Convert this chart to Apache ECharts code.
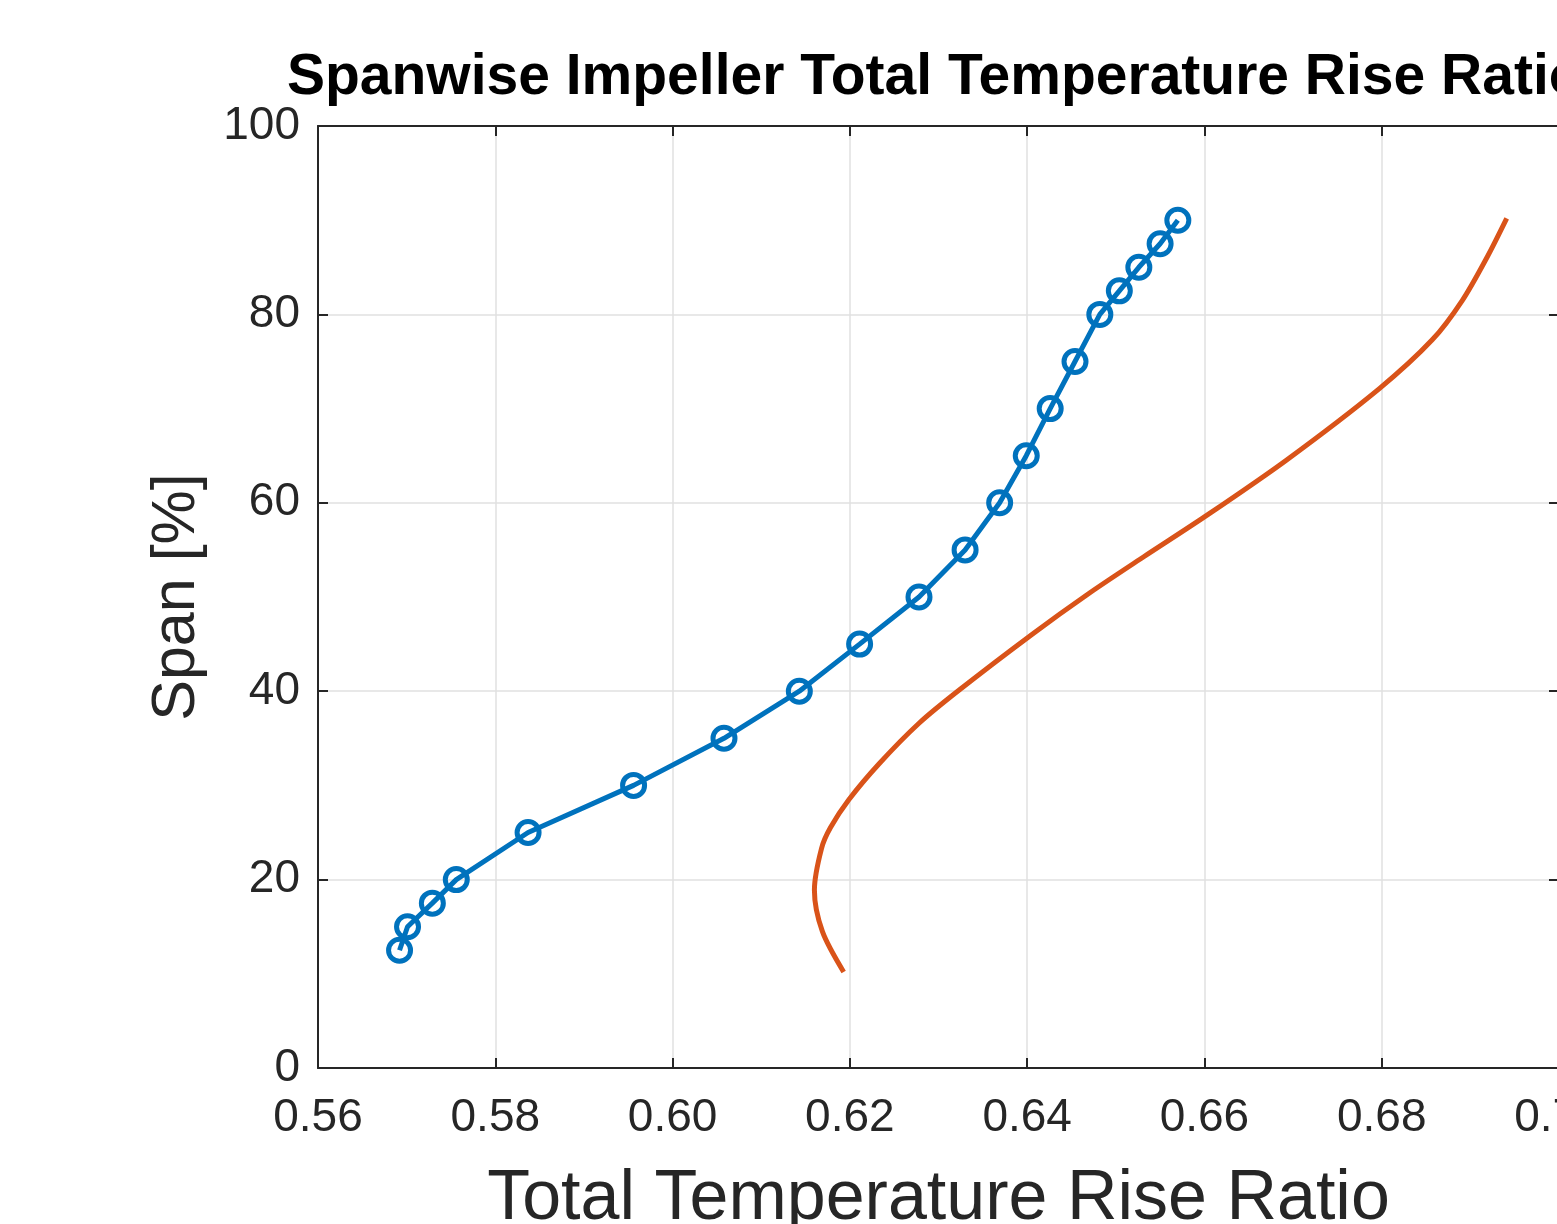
<!DOCTYPE html>
<html>
<head>
<meta charset="utf-8">
<script src="https://cdn.jsdelivr.net/npm/echarts@6/dist/echarts.min.js"></script>
<style>
html,body{margin:0;padding:0;overflow:hidden;background:#fff;width:1557px;height:1224px;}
#chart{width:1600px;height:1224px;}
</style>
</head>
<body>
<div id="chart"></div>
<script>
// Data
const titleText = 'Spanwise Impeller Total Temperature Rise Ratio';
const xAxisName = 'Total Temperature Rise Ratio';
const yAxisName = 'Span [%]';

const spanBlue  = [12.5, 15, 17.5, 20, 25, 30, 35, 40, 45, 50, 55, 60, 65, 70, 75, 80, 82.5, 85, 87.5, 90];
const ratioBlue = [0.5692, 0.5701, 0.5729, 0.5756, 0.5837, 0.5956, 0.6058, 0.6143, 0.6211, 0.6278, 0.6330, 0.6369, 0.6399, 0.6426, 0.6454, 0.6482, 0.6504, 0.6526, 0.6550, 0.6570];

const spanOrange  = [10.2, 14.5, 18.9, 23.3, 25.5, 28.5, 32.3, 36.6, 40.1, 46.0, 50.4, 54.3, 58.5, 64.5, 72.1, 77.3, 81.5, 86.1, 90.2];
const ratioOrange = [0.6193, 0.6169, 0.6160, 0.6168, 0.6178, 0.6199, 0.6233, 0.6278, 0.6323, 0.6405, 0.6470, 0.6532, 0.6600, 0.6692, 0.6797, 0.6857, 0.6891, 0.6919, 0.6941];

const xMin = 0.56, xMax = 0.70, xStep = 0.02;
const yMin = 0, yMax = 100, yStep = 20;

const FONT = "'Liberation Sans', Arial, Helvetica, sans-serif";
const AXC = '#262626';

const blueData = spanBlue.map((s, i) => [ratioBlue[i], s]);
const orangeData = spanOrange.map((s, i) => [ratioOrange[i], s]);

const chart = echarts.init(document.getElementById('chart'), null, {renderer: 'canvas'});
chart.setOption({
  animation: false,
  backgroundColor: '#fff',
  title: {
    text: titleText,
    left: 287, top: 50,
    padding: 0,
    textStyle: {fontFamily: FONT, fontSize: 57, fontWeight: 'bold', color: '#000'}
  },
  grid: {left: 318, right: 41, top: 126, bottom: 156, containLabel: false, outerBoundsMode: 'none'},
  xAxis: [{
    type: 'value', min: xMin, max: xMax, interval: xStep, position: 'bottom',
    name: xAxisName, nameLocation: 'middle', nameGap: 97,
    nameTextStyle: {fontFamily: FONT, fontSize: 70, color: AXC},
    axisLine: {show: true, onZero: false, lineStyle: {color: AXC, width: 2}},
    axisTick: {show: true, inside: true, length: 10, lineStyle: {color: AXC, width: 2}},
    axisLabel: {fontFamily: FONT, fontSize: 46, color: AXC, margin: 27, formatter: v => v.toFixed(2)},
    splitLine: {show: true, lineStyle: {color: '#e0e0e0', width: 1.5}}
  }, {
    type: 'value', min: xMin, max: xMax, interval: xStep, position: 'top',
    axisLine: {show: true, onZero: false, lineStyle: {color: AXC, width: 2}},
    axisTick: {show: true, inside: true, length: 10, lineStyle: {color: AXC, width: 2}},
    axisLabel: {show: false}, splitLine: {show: false}
  }],
  yAxis: [{
    type: 'value', min: yMin, max: yMax, interval: yStep, position: 'left',
    name: yAxisName, nameLocation: 'middle', nameGap: 110, nameRotate: 90,
    nameTextStyle: {fontFamily: FONT, fontSize: 61, color: AXC},
    axisLine: {show: true, onZero: false, lineStyle: {color: AXC, width: 2}},
    axisTick: {show: true, inside: true, length: 10, lineStyle: {color: AXC, width: 2}},
    axisLabel: {fontFamily: FONT, fontSize: 46, color: AXC, margin: 18},
    splitLine: {show: true, lineStyle: {color: '#e0e0e0', width: 1.5}}
  }, {
    type: 'value', min: yMin, max: yMax, interval: yStep, position: 'right',
    axisLine: {show: true, onZero: false, lineStyle: {color: AXC, width: 2}},
    axisTick: {show: true, inside: true, length: 10, lineStyle: {color: AXC, width: 2}},
    axisLabel: {show: false}, splitLine: {show: false}
  }],
  series: [{
    type: 'line', xAxisIndex: 0, yAxisIndex: 0,
    data: blueData,
    symbol: 'circle', symbolSize: 22, showSymbol: true,
    lineStyle: {color: '#0072BD', width: 5},
    itemStyle: {color: 'rgba(255,255,255,0)', borderColor: '#0072BD', borderWidth: 5},
    z: 3
  }, {
    type: 'line', xAxisIndex: 0, yAxisIndex: 0,
    data: orangeData,
    symbol: 'none', smooth: 0.3,
    lineStyle: {color: '#D95319', width: 5},
    z: 2
  }]
});
</script>
</body>
</html>
